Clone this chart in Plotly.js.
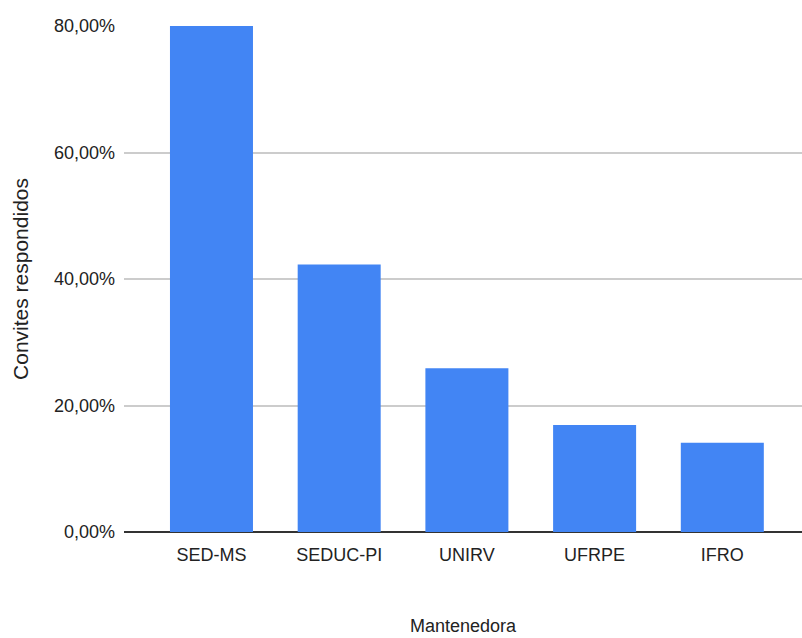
<!DOCTYPE html>
<html>
<head>
<meta charset="utf-8">
<script src="https://cdn.plot.ly/plotly-3.0.1.min.js"></script>
<style>
html,body{margin:0;padding:0;background:#fff;}
#chart{width:802px;height:638px;}
</style>
</head>
<body>
<div id="chart"></div>
<script>
const categories = ["SED-MS", "SEDUC-PI", "UNIRV", "UFRPE", "IFRO"];
const values = [0.800, 0.423, 0.259, 0.169, 0.141];
const yTickValues = [0, 0.2, 0.4, 0.6, 0.8];
const xTitle = "Mantenedora";
const yTitle = "Convites respondidos";

const font = '"Liberation Sans", Arial, sans-serif';

const trace = {
  type: "bar",
  x: categories,
  y: values,
  marker: {color: "#4285F4"},
  hovertemplate: "%{x}: %{y:.2%}<extra></extra>"
};

const layout = {
  width: 802,
  height: 638,
  margin: {l: 124, r: 0, t: 26, b: 106},
  paper_bgcolor: "#ffffff",
  plot_bgcolor: "#ffffff",
  separators: ",.",
  bargap: 0.35,
  showlegend: false,
  xaxis: {
    type: "category",
    range: [-0.685, 4.624],
    showgrid: false,
    showline: false,
    zeroline: false,
    ticks: "",
    ticklabelstandoff: 10,
    tickfont: {family: font, size: 18, color: "#222222"},
    title: {text: xTitle, font: {family: font, size: 18, color: "#222222"}, standoff: 55},
    automargin: false,
    fixedrange: true
  },
  yaxis: {
    range: [0, 0.8],
    tickvals: yTickValues,
    tickformat: ".2%",
    showgrid: true,
    gridcolor: "#cccccc",
    gridwidth: 1.5,
    zeroline: true,
    zerolinecolor: "#333333",
    zerolinewidth: 2,
    showline: false,
    ticks: "",
    ticklabelstandoff: 8,
    tickfont: {family: font, size: 18, color: "#222222"},
    title: {text: yTitle, font: {family: font, size: 21, color: "#222222"}, standoff: 19},
    automargin: false,
    fixedrange: true
  }
};

Plotly.newPlot("chart", [trace], layout, {displayModeBar: false});
</script>
</body>
</html>
